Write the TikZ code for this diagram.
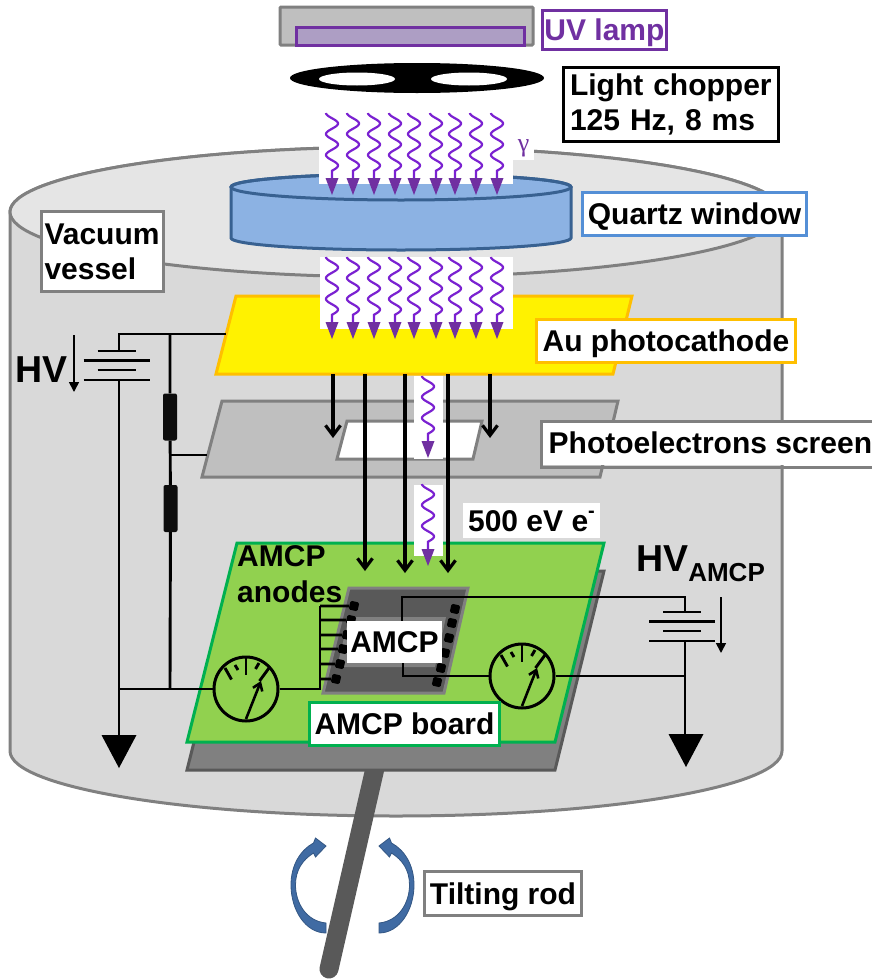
\documentclass[tikz,border=0pt]{standalone}
\usepackage{fontspec}
\setmainfont{Liberation Sans}
\newfontfamily\gammafont{Liberation Serif}
\usepackage{xcolor}
\definecolor{vesselbody}{rgb}{0.85,0.85,0.85}
\definecolor{vesseltop}{rgb}{0.90,0.90,0.90}
\definecolor{edgegray}{rgb}{0.50,0.50,0.50}
\definecolor{darkgray}{rgb}{0.35,0.35,0.35}
\definecolor{lampgray}{rgb}{0.75,0.75,0.75}
\definecolor{uvpurple}{rgb}{0.44,0.19,0.63}
\definecolor{uvfill}{rgb}{0.68,0.62,0.77}
\definecolor{raywave}{rgb}{0.48,0.13,0.82}
\definecolor{quartz}{rgb}{0.55,0.70,0.89}
\definecolor{quartzedge}{rgb}{0.22,0.38,0.57}
\definecolor{quartztag}{rgb}{0.33,0.56,0.84}
\definecolor{cathodeedge}{rgb}{1,0.75,0}
\definecolor{boardgreen}{rgb}{0.57,0.82,0.31}
\definecolor{boardedge}{rgb}{0,0.69,0.31}
\definecolor{tiltblue}{rgb}{0.25,0.42,0.64}
\usetikzlibrary{arrows.meta}
\usetikzlibrary{positioning}

\newcommand{\tagfont}{\bfseries\fontsize{30}{35}\selectfont}

\tikzset{
  tag/.style={draw,fill=white,line width=3pt,inner sep=0pt,font=\tagfont},
  plaintag/.style={fill=white,inner sep=0pt,font=\tagfont},
  capline/.style={text height=21.5pt,text depth=0pt},
  wire/.style={line width=2.9pt,black},
  ray/.style={line width=2.2pt,raywave},
  rayhead/.style={fill=uvpurple},
  patch/.style={fill=white},
  electron/.style={line width=3.2pt,black,-{Straight Barb[length=10pt,width=15pt]}},
  meter/.style={draw,circle,line width=3pt,minimum size=64pt,inner sep=0pt},
  resistor/.style={fill=black!95,rounded corners=2pt,minimum width=14pt,minimum height=47pt,inner sep=0pt},
  pad/.style={fill=black,rounded corners=1.5pt,minimum size=9pt,inner sep=0pt,rotate=-13},
  hvarrow/.style={line width=1.7pt,black,-{Triangle[length=10pt,width=10pt]}}
}

% wavy UV photon: centre x, top y
\newcommand{\uvray}[2]{%
  \draw[ray] plot[domain=0:57.75,samples=70] ({#1-6*cos(\x/21*360)},{#2+\x}) -- (#1,#2+66);
  \fill[rayhead] (#1-6.5,#2+65) -- (#1+6.5,#2+65) -- (#1,#2+82) -- cycle;
}
% four plates of a battery: centre x, top y
\newcommand{\battery}[2]{%
  \draw[wire] (#1-19,#2) -- (#1+19,#2);
  \draw[wire] (#1-33,#2+9.5) -- (#1+33,#2+9.5);
  \draw[wire] (#1-19,#2+19) -- (#1+19,#2+19);
  \draw[wire] (#1-33,#2+29) -- (#1+33,#2+29);
}
% ticks and needle of a meter node
\newcommand{\meterface}[1]{%
  \begin{scope}[shift={(#1.center)}]
    \draw[wire] (-21,-21) -- (-14.5,-9.5);
    \draw[wire] (0,-32) -- (0,-14);
    \draw[wire] (-11,-24) -- (-8,-19);
    \draw[wire] (13,-26) -- (9.5,-20);
    \draw[wire] (23,-21) -- (13.5,-8);
    \draw[line width=2.6pt,-{Straight Barb[length=7pt,width=10pt]}] (0,30) -- (15,-8);
  \end{scope}
}
\newcommand{\earth}[2]{\fill[black] (#1-17.5,#2) -- (#1+17.5,#2) -- (#1,#2+33) -- cycle;}

\begin{document}
\begin{tikzpicture}[x=1pt,y=-1pt]
  \useasboundingbox (0,0) rectangle (872,980);

  % Vacuum vessel
  \draw[fill=vesselbody,draw=edgegray,line width=3pt] (10,212) -- (10,751)
    arc[start angle=180,end angle=360,x radius=386pt,y radius=65pt] -- (782,212)
    arc[start angle=0,end angle=180,x radius=386pt,y radius=65pt] -- cycle;
  \draw[fill=vesseltop,draw=edgegray,line width=3pt] (396,212) ellipse [x radius=386pt,y radius=65pt];

  % UV lamp
  \draw[fill=lampgray,draw=edgegray,line width=3pt,rounded corners=1pt] (280,7) rectangle (533,45);
  \draw[fill=uvfill,draw=uvpurple,line width=3pt] (296,27) rectangle (524,45);

  % Chopper
  \fill[black] (417,78) ellipse [x radius=127pt,y radius=15pt];
  \fill[white] (357,79) ellipse [x radius=38pt,y radius=6.5pt];
  \fill[white] (469,79) ellipse [x radius=38pt,y radius=6.5pt];

  % Quartz window
  \draw[fill=quartz,draw=quartzedge,line width=3pt] (231,187) -- (231,238)
    arc[start angle=180,end angle=360,x radius=170pt,y radius=12pt] -- (571,187)
    arc[start angle=0,end angle=180,x radius=170pt,y radius=13pt] -- cycle;
  \draw[draw=quartzedge,line width=3pt] (401,187) ellipse [x radius=170pt,y radius=13pt];

  % Screen with its slit
  \draw[fill=lampgray,draw=edgegray,line width=3pt] (222,401) -- (618,401) -- (600,477) -- (202,477) -- cycle;
  \draw[fill=white,draw=edgegray,line width=3pt] (347,421) -- (482,421) -- (473,459) -- (337,459) -- cycle;

  % Photocathode
  \draw[fill=yellow,draw=cathodeedge,line width=3pt] (236,296) -- (632,296) -- (613,374) -- (216,374) -- cycle;

  % Tilting rod and arrows
  \draw[darkgray,line width=19pt,line cap=round] (378,755) -- (329,969);
  \foreach \flip in {1,-1}{
    \begin{scope}[shift={(352.5,0)},xscale=\flip]
      \draw[fill=tiltblue,draw=tiltblue!80!black,line width=0.8pt] (-26.5,923) .. controls (-47,921) and (-57,902) .. (-57,885)
        .. controls (-57,870) and (-50,860) .. (-39,853) -- (-37,857) -- (-26.5,846) -- (-37,838) -- (-39,843)
        .. controls (-52,850) and (-61.5,865) .. (-61.5,885) .. controls (-61.5,910) and (-47,933) .. (-26.5,933) -- cycle;
    \end{scope}
  }

  % Board
  \draw[fill=edgegray,draw=darkgray,line width=3pt] (237,571) -- (604,571) -- (555,770) -- (187,770) -- cycle;
  \draw[fill=boardgreen,draw=boardedge,line width=3pt] (237,543) -- (604,543) -- (555,742) -- (187,742) -- cycle;

  % AMCP chip
  \draw[fill=darkgray,draw=edgegray,line width=3pt] (349,588) -- (468,588) -- (444,693) -- (323,693) -- cycle;
  \fill[edgegray] (349,617) -- (446,617) -- (435,667) -- (337,667) -- cycle;

  % white backing of the rays
  \fill[patch] (319,113) rectangle (513,184);
  \fill[patch] (320,257) rectangle (513,329);
  \fill[patch] (414,376) rectangle (443,459);
  \fill[patch] (414,485) rectangle (443,556);

  % UV rays
  \foreach \rx in {332,353,374,395,414,436,455,476,497}{
    \uvray{\rx}{113}
    \uvray{\rx}{257}
  }
  \uvray{428}{376}
  \uvray{428}{484}
  \node[fill=white,inner sep=0pt,minimum width=21pt,minimum height=23pt,text=uvpurple,font=\gammafont\fontsize{26}{26}\selectfont] (gammatag) at (523.5,148.5) {γ};

  % Electrons
  \foreach \ex/\ey in {333/438,365/571,405/573,448/573,490/438}{
    \coordinate (etop) at (\ex,374);
    \coordinate (eend) at (\ex,\ey);
    \draw[electron] (etop) -- (eend);
  }

  % HV circuit of the cathode
  \coordinate (hvcorner) at (119,334);
  \coordinate (cathodewire) at (226,334);
  \coordinate (hvplate) at (119,351);
  \coordinate (hvminus) at (119,380);
  \coordinate (gndleft) at (119,735);
  \coordinate (divtop) at (170,334);
  \coordinate (divtap) at (170,455);
  \coordinate (screenwire) at (207,455);
  \coordinate (divend) at (170,689);
  \coordinate (wireleft) at (119,689);
  \node[resistor] (resup) at (170,417) {};
  \node[resistor] (resdown) at (170.5,508.5) {};
  \node[meter] (meterL) at (246,689) {};
  \draw[wire] (cathodewire) -- (hvcorner) -- (hvplate);
  \draw[wire] (hvminus) -- (gndleft);
  \draw[wire] (divtop) -- (resup) -- (resdown) -- (divend);
  \draw[wire] (divtap) -- (screenwire);
  \draw[wire] (wireleft) -- (meterL);
  \battery{116.5}{351}
  \earth{119}{735}
  \meterface{meterL}
  \coordinate (hvarrowtop) at (74,335);
  \coordinate (hvarrowend) at (74,392);
  \draw[hvarrow] (hvarrowtop) -- (hvarrowend);

  % Anode pads and bus
  \coordinate (busend) at (320,689);
  \coordinate (bustop) at (320,606);
  \draw[wire] (meterL) -- (busend) -- (bustop);
  \foreach \pn/\px/\py in {1/354/606,2/351/620,3/347/635,4/343/649,5/340/664,6/336/679}{
    \node[pad] (padL\pn) at (\px,\py) {};
    \coordinate (bus\pn) at (320,\py);
    \draw[wire] (bus\pn) -- (padL\pn);
  }
  \foreach \pn/\px/\py in {1/455/609,2/452/623,3/449/638,4/445/653,5/441/668,6/437/682}{
    \node[pad] (padR\pn) at (\px,\py) {};
  }

  % HV circuit of the AMCP
  \coordinate (chiptop) at (402,621);
  \coordinate (chiptopbend) at (402,597);
  \coordinate (hvatop) at (685,597);
  \coordinate (hvaplate) at (685,612);
  \coordinate (hvaminus) at (685,641);
  \coordinate (gndright) at (685,735);
  \coordinate (chipbot) at (403,663);
  \coordinate (chipbotbend) at (403,676);
  \coordinate (tapright) at (685,676);
  \node[meter] (meterR) at (522,676) {};
  \draw[wire] (chiptop) -- (chiptopbend) -- (hvatop) -- (hvaplate);
  \draw[wire] (hvaminus) -- (gndright);
  \draw[wire] (chipbot) -- (chipbotbend) -- (meterR);
  \draw[wire] (meterR) -- (tapright);
  \battery{682}{612}
  \earth{686}{734}
  \meterface{meterR}
  \coordinate (hvaarrowtop) at (721,597);
  \coordinate (hvaarrowend) at (721,653);
  \draw[hvarrow] (hvaarrowtop) -- (hvaarrowend);

  % Labels
  \node[tag,capline,draw=uvpurple,text=uvpurple,minimum width=124pt,minimum height=39pt] (uvtag) at (604.5,30) {UV lamp};
  \node[tag,draw=black,text width=202pt,inner xsep=6.5pt,align=left,minimum height=74pt] (choppertag) at (671,104.5) {Light chopper\\125 Hz, 8 ms};
  \node[tag,capline,draw=quartztag,minimum width=224pt,minimum height=43pt] (quartztag) at (694.5,214) {Quartz window};
  \node[tag,draw=edgegray,text width=116pt,inner xsep=3pt,align=left,minimum height=80pt] (vesseltag) at (102.5,251.5) {Vacuum\\vessel};
  \node[tag,capline,draw=cathodeedge,minimum width=259pt,minimum height=43pt] (cathodetag) at (666,341) {Au photocathode};
  \node[plaintag,capline,anchor=west,inner xsep=6pt,minimum height=43pt,minimum width=330pt,align=left] (screentag) at (542.5,443) {Photoelectrons screen};
  \draw[edgegray,line width=3pt] (872,421) -- (541,421) -- (541,467) -- (872,467);
  \node[plaintag,capline,minimum width=137pt,minimum height=35pt] (energytag) at (531.5,520.5) {500 eV e\raisebox{0.45em}{\fontsize{20}{20}\selectfont -}};
  \node[font=\bfseries\fontsize{30}{36}\selectfont,inner sep=0pt,align=left,anchor=north west] (anodestag) at (237,545.5) {AMCP\\anodes};
  \node[plaintag,capline,minimum width=95pt,minimum height=42pt] (amcptag) at (394.5,642) {AMCP};
  \node[tag,capline,draw=boardedge,minimum width=190pt,minimum height=43pt] (boardtag) at (404.5,724) {AMCP board};
  \node[tag,capline,draw=edgegray,minimum width=157pt,minimum height=44pt] (rodtag) at (503,893.5) {Tilting rod};
  \node[font=\bfseries\fontsize{37.5}{38}\selectfont,inner sep=0pt,anchor=base west] (hvtag) at (15,382) {HV};
  \node[font=\bfseries\fontsize{37.5}{38}\selectfont,inner sep=0pt,anchor=base west] (hvamcptag) at (636,571) {HV\raisebox{-10pt}{\fontsize{26}{26}\selectfont AMCP}};

\end{tikzpicture}
\end{document}
